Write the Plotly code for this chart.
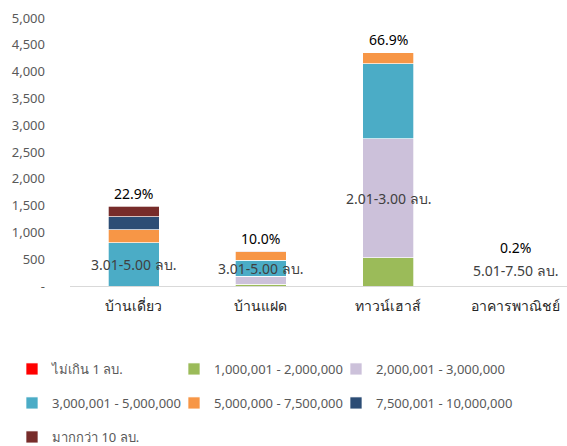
import plotly.graph_objects as go

categories = ["บ้านเดี่ยว", "บ้านแฝด", "ทาวน์เฮาส์", "อาคารพาณิชย์"]

series_names = [
    "ไม่เกิน 1 ลบ.",
    "1,000,001 - 2,000,000",
    "2,000,001 - 3,000,000",
    "3,000,001 - 5,000,000",
    "5,000,000 - 7,500,000",
    "7,500,001 - 10,000,000",
    "มากกว่า 10 ลบ.",
]
under_1m = [0, 0, 0, 0]
m1_2 = [0, 30, 530, 0]
m2_3 = [0, 155, 2215, 0]
m3_5 = [805, 295, 1405, 0]
m5_75 = [240, 160, 200, 13]
m75_10 = [245, 0, 0, 0]
over_10 = [198, 10, 0, 0]
series_values = [under_1m, m1_2, m2_3, m3_5, m5_75, m75_10, over_10]
colors = ["#FF0000", "#9BBB59", "#CCC1DA", "#4BACC6", "#F79646", "#2C4D75", "#772C2A"]

segment_labels = ["3.01-5.00 ลบ.", "3.01-5.00 ลบ.", "2.01-3.00 ลบ.", "5.01-7.50 ลบ."]

y_ticks = [0, 500, 1000, 1500, 2000, 2500, 3000, 3500, 4000, 4500, 5000]
y_tick_text = ["-", "500", "1,000", "1,500", "2,000", "2,500", "3,000", "3,500", "4,000", "4,500", "5,000"]

FONT = "Tahoma, Noto Sans, sans-serif"
W, H = 567, 446

fig = go.Figure()
legend_layout = {}
for idx, (name, vals, col) in enumerate(zip(series_names, series_values, colors)):
    lg = "legend" if idx == 0 else f"legend{idx + 1}"
    fig.add_trace(go.Bar(
        x=categories, y=vals, name=name,
        marker=dict(color=col, line=dict(color="white", width=0.7)),
        legend=lg,
    ))
    row, colnum = divmod(idx, 3)
    legend_layout[lg] = dict(
        orientation="h", xref="container", yref="container",
        xanchor="left", yanchor="middle",
        x=(12 + 162 * colnum) / W, y=1 - (369 + 34 * row) / H,
        font=dict(family=FONT, size=13, color="#595959"),
        bgcolor="rgba(0,0,0,0)", itemclick=False, itemdoubleclick=False,
    )

totals = [sum(s[i] for s in series_values) for i in range(len(categories))]
grand = sum(totals)
px_per_unit = (446 - 160 - 18) / 5000

annotations = []
for i, cat in enumerate(categories):
    seg_vals = [s[i] for s in series_values]
    k = max(range(len(seg_vals)), key=lambda j: seg_vals[j])
    base = sum(seg_vals[:k])
    center = base + seg_vals[k] / 2
    small = seg_vals[k] * px_per_unit < 5
    annotations.append(dict(
        x=cat, y=center, xref="x", yref="y", text=segment_labels[i], showarrow=False,
        font=dict(family=FONT, size=14, color="#404040"),
        yshift=15 if small else 0,
    ))
    annotations.append(dict(
        x=cat, y=totals[i], xref="x", yref="y",
        text=f"{totals[i] / grand * 100:.1f}%", showarrow=False,
        font=dict(family=FONT, size=14, color="#000000"),
        yshift=38 if small else 13,
    ))

fig.update_layout(
    barmode="stack",
    bargap=0.6,
    width=W, height=H,
    margin=dict(l=70, r=0, t=18, b=160, autoexpand=False),
    paper_bgcolor="white", plot_bgcolor="white",
    font=dict(family=FONT, size=13, color="#595959"),
    xaxis=dict(
        range=[-0.5, 3.406], showline=True, linecolor="#D9D9D9", linewidth=1,
        ticks="", tickfont=dict(family=FONT, size=14, color="#262626"),
        showgrid=False, fixedrange=True, automargin=False, ticklabelstandoff=7,
    ),
    yaxis=dict(
        range=[0, 5000], tickvals=y_ticks, ticktext=y_tick_text,
        showgrid=False, zeroline=False, showline=False, ticks="",
        tickfont=dict(family=FONT, size=13, color="#595959"),
        ticklabelstandoff=24, automargin=False,
    ),
    annotations=annotations,
    showlegend=True,
    **legend_layout,
)

fig.write_html(
    "out.html",
    config={"displayModeBar": False},
    post_script="document.body.style.margin='0';document.body.style.overflow='hidden';",
)
